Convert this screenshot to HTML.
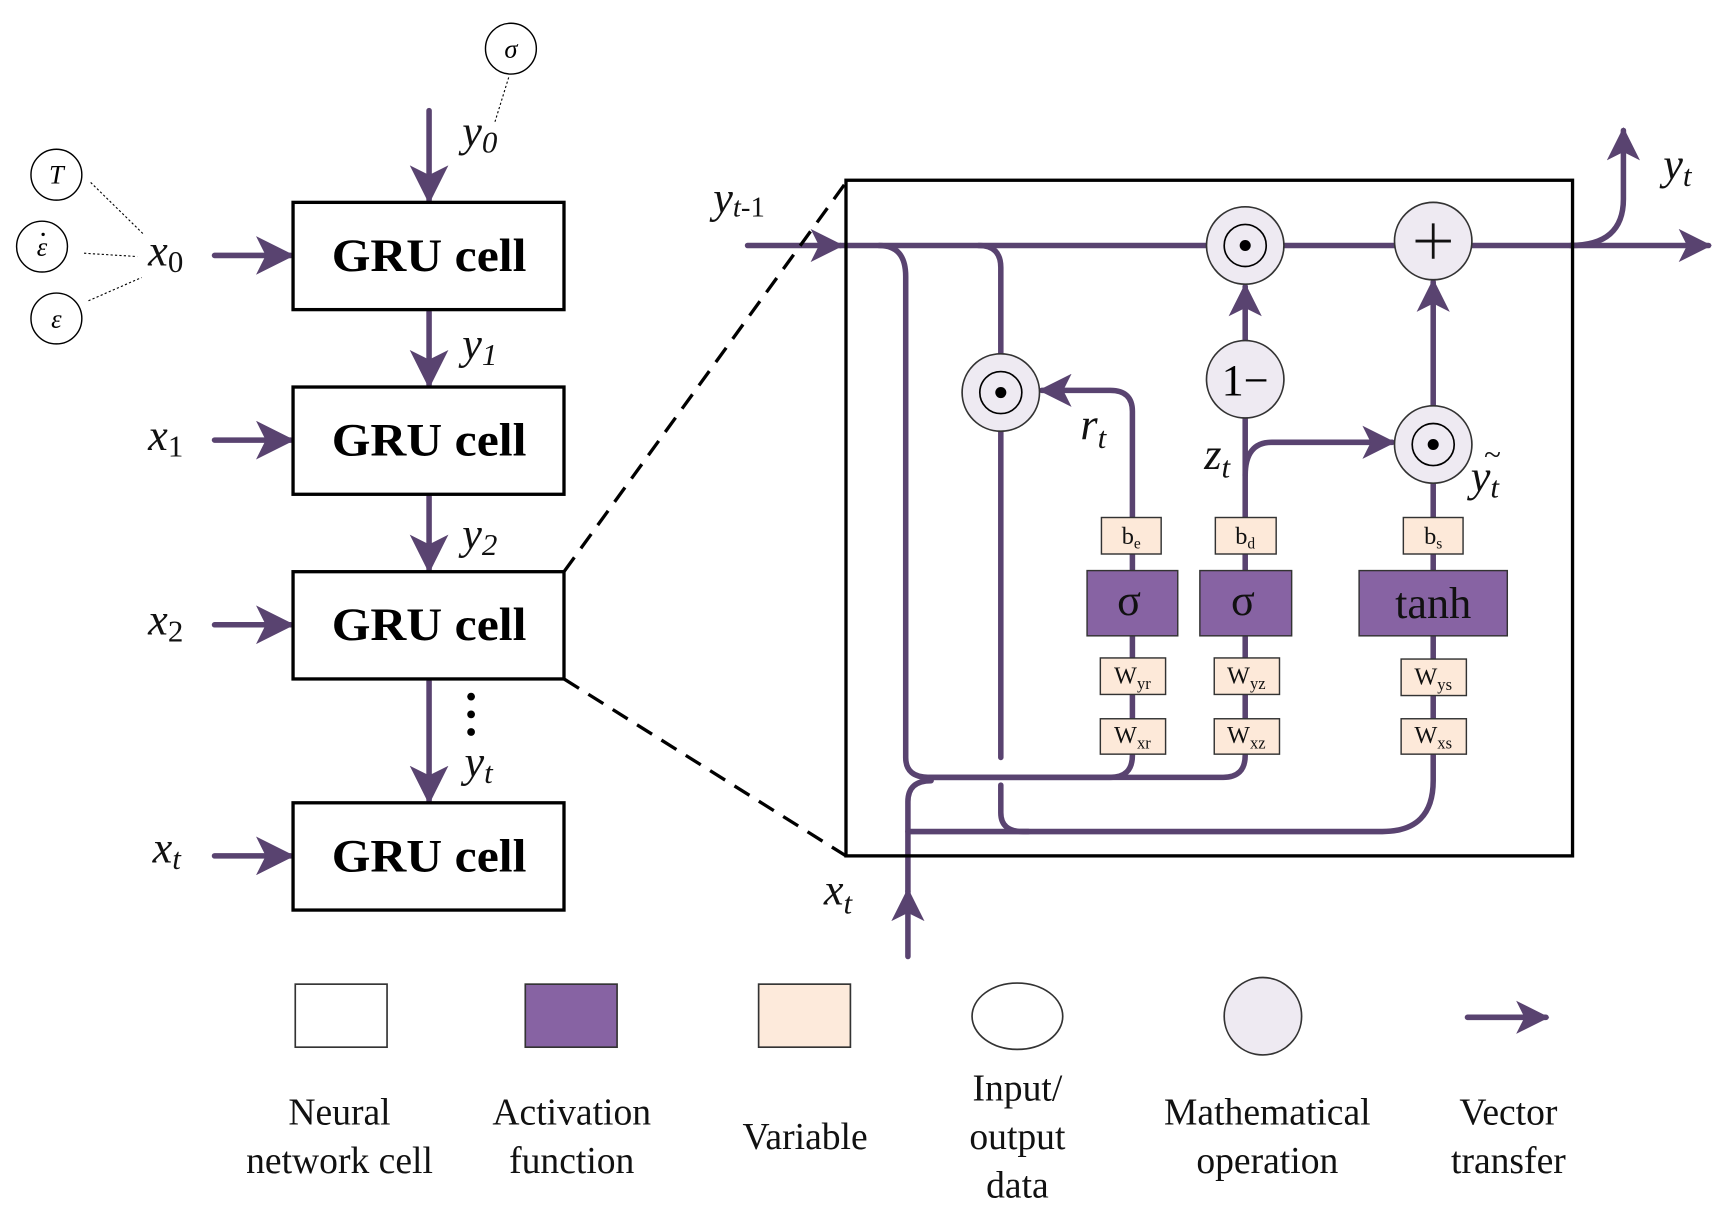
<!DOCTYPE html>
<html><head><meta charset="utf-8"><style>
html,body{margin:0;padding:0;background:#fff}
svg{display:block}
text{font-family:"Liberation Serif",serif}
</style></head><body>
<svg width="1734" height="1223" viewBox="0 0 1568 1106" preserveAspectRatio="none" xmlns="http://www.w3.org/2000/svg">
<defs>
<marker id="ah" viewBox="0 0 10 10" refX="9" refY="5" markerWidth="7" markerHeight="7" orient="auto" markerUnits="strokeWidth">
<path d="M0,0 L10,5 L0,10 L2.5,5 Z" fill="#594370"/>
</marker>
<marker id="as" viewBox="0 0 10 10" refX="9" refY="5" markerWidth="6" markerHeight="6" orient="auto" markerUnits="strokeWidth">
<path d="M0,0 L10,5 L0,10 L2.5,5 Z" fill="#594370"/>
</marker>
</defs>
<g fill="none" stroke="#594370" stroke-width="5" stroke-linecap="round">
<line x1="388" y1="100" x2="388" y2="181" marker-end="url(#ah)"/>
<line x1="388" y1="282" x2="388" y2="348" marker-end="url(#ah)"/>
<line x1="388" y1="449" x2="388" y2="515" marker-end="url(#ah)"/>
<line x1="388" y1="616" x2="388" y2="724" marker-end="url(#ah)"/>
<line x1="194" y1="231" x2="263" y2="231" marker-end="url(#ah)"/>
<line x1="194" y1="398" x2="263" y2="398" marker-end="url(#ah)"/>
<line x1="194" y1="565" x2="263" y2="565" marker-end="url(#ah)"/>
<line x1="194" y1="774" x2="263" y2="774" marker-end="url(#ah)"/>
<line x1="676" y1="222" x2="760" y2="222" marker-end="url(#as)"/>
<line x1="760" y1="222" x2="1545" y2="222" marker-end="url(#as)"/>
<path d="M1420,222 Q1468,222 1468,180 L1468,118" marker-end="url(#as)"/>
<path d="M795,222 Q819,222 819,250 L819,685 Q819,703 840,703 L1004,703 Q1024,703 1024,683"/>
<path d="M840,703 L1106,703 Q1126,703 1126,683"/>
<path d="M885,222 Q905,222 905,242 L905,320"/>
<line x1="905" y1="390" x2="905" y2="685"/>
<path d="M905,710 L905,735 Q905,752 925,752 L1250,752 Q1296,752 1296,706 L1296,683"/>
<line x1="821" y1="865" x2="821" y2="806" marker-end="url(#as)"/>
<path d="M821,806 L821,725 Q821,706 842,706"/>
<line x1="821" y1="752" x2="930" y2="752"/>
<path d="M1024,650 L1024,372 Q1024,353 1004,353 L942,353" marker-end="url(#as)"/>
<line x1="1126" y1="650" x2="1126" y2="378"/>
<line x1="1126" y1="308" x2="1126" y2="259" marker-end="url(#as)"/>
<path d="M1126,430 Q1126,400 1150,400 L1259,400" marker-end="url(#as)"/>
<line x1="1296" y1="650" x2="1296" y2="437"/>
<line x1="1296" y1="367" x2="1296" y2="255" marker-end="url(#as)"/>
<line x1="1327" y1="920" x2="1398" y2="920" marker-end="url(#as)"/>
</g>
<g fill="#fff" stroke="#000" stroke-width="3">
<rect x="265" y="183" width="245" height="97"/>
<rect x="265" y="350" width="245" height="97"/>
<rect x="265" y="517" width="245" height="97"/>
<rect x="265" y="726" width="245" height="97"/>
</g>
<g font-size="42" font-weight="bold" text-anchor="middle" fill="#000">
<text x="388" y="245" textLength="176" lengthAdjust="spacingAndGlyphs">GRU cell</text>
<text x="388" y="412" textLength="176" lengthAdjust="spacingAndGlyphs">GRU cell</text>
<text x="388" y="579" textLength="176" lengthAdjust="spacingAndGlyphs">GRU cell</text>
<text x="388" y="788" textLength="176" lengthAdjust="spacingAndGlyphs">GRU cell</text>
</g>
<circle cx="426" cy="630" r="3.5"/><circle cx="426" cy="646" r="3.5"/><circle cx="426" cy="662" r="3.5"/>
<g stroke="#000" stroke-width="3" stroke-dasharray="16,10" fill="none">
<line x1="510" y1="517" x2="765" y2="165"/>
<line x1="510" y1="614" x2="765" y2="774"/>
</g>
<rect x="765" y="163" width="657" height="611" fill="none" stroke="#000" stroke-width="3"/>
<g fill="#fff" stroke="#000" stroke-width="1.3">
<circle cx="462" cy="44" r="23"/><circle cx="51" cy="158" r="23"/><circle cx="38" cy="223" r="23"/><circle cx="51" cy="288" r="23"/>
</g>
<g stroke="#000" stroke-width="1" stroke-dasharray="2,2">
<line x1="460" y1="70" x2="447" y2="112"/>
<line x1="82" y1="165" x2="130" y2="212"/>
<line x1="76" y1="229" x2="124" y2="232"/>
<line x1="80" y1="272" x2="128" y2="251"/>
</g>
<g font-style="italic" font-size="24" text-anchor="middle">
<text x="462" y="52">σ</text><text x="51" y="166">T</text><text x="38" y="231">ε</text><text x="51" y="296">ε</text>
</g>
<circle cx="39" cy="212" r="1.5"/>
<g fill="#eeeaf2" stroke="#333" stroke-width="1.5">
<circle cx="1126" cy="222" r="35"/><circle cx="1296" cy="218" r="35"/><circle cx="905" cy="355" r="35"/><circle cx="1126" cy="343" r="35"/><circle cx="1296" cy="402" r="35"/>
</g>
<g fill="none" stroke="#000" stroke-width="1.5">
<circle cx="1126" cy="222" r="19"/><circle cx="905" cy="355" r="19"/><circle cx="1296" cy="402" r="19"/>
</g>
<circle cx="1126" cy="222" r="5"/><circle cx="905" cy="355" r="5"/><circle cx="1296" cy="402" r="5"/>
<g stroke="#111" stroke-width="2.5"><line x1="1280" y1="218" x2="1312" y2="218"/><line x1="1296" y1="202" x2="1296" y2="234"/></g>
<text x="1126" y="357" font-size="40" text-anchor="middle">1−</text>
<g fill="#fde9d9" stroke="#333" stroke-width="1.3">
<rect x="996" y="468" width="54" height="33"/><rect x="1099" y="468" width="55" height="33"/><rect x="1269" y="468" width="54" height="33"/>
<rect x="995" y="595" width="59" height="33"/><rect x="1098" y="595" width="59" height="33"/><rect x="1267" y="596" width="59" height="33"/>
<rect x="995" y="650" width="59" height="32"/><rect x="1098" y="650" width="59" height="32"/><rect x="1267" y="650" width="59" height="32"/>
</g>
<g fill="#8763a3" stroke="#333" stroke-width="1.3">
<rect x="983" y="516" width="82" height="59"/><rect x="1085" y="516" width="83" height="59"/><rect x="1229" y="516" width="134" height="59"/>
</g>
<g font-size="40" text-anchor="middle" fill="#111">
<text x="1021" y="556">σ</text><text x="1124" y="556">σ</text><text x="1296" y="559">tanh</text>
</g>
<g font-size="22" text-anchor="middle" fill="#111">
<text x="1023" y="492">b<tspan font-size="14" dy="4">e</tspan></text>
<text x="1126" y="492">b<tspan font-size="14" dy="4">d</tspan></text>
<text x="1296" y="492">b<tspan font-size="14" dy="4">s</tspan></text>
<text x="1024" y="618">W<tspan font-size="15" dy="5">yr</tspan></text>
<text x="1127" y="618">W<tspan font-size="15" dy="5">yz</tspan></text>
<text x="1296" y="619">W<tspan font-size="15" dy="5">ys</tspan></text>
<text x="1024" y="672">W<tspan font-size="15" dy="5">xr</tspan></text>
<text x="1127" y="672">W<tspan font-size="15" dy="5">xz</tspan></text>
<text x="1296" y="672">W<tspan font-size="15" dy="5">xs</tspan></text>
</g>
<g font-style="italic" font-size="40" fill="#111">
<text x="418" y="132">y<tspan font-size="28" dy="6">0</tspan></text>
<text x="418" y="324">y<tspan font-size="28" dy="6">1</tspan></text>
<text x="418" y="496">y<tspan font-size="28" dy="6">2</tspan></text>
<text x="420" y="702">y<tspan font-size="28" dy="6">t</tspan></text>
<text x="134" y="240">x<tspan font-size="28" dy="6" font-style="normal">0</tspan></text>
<text x="134" y="407">x<tspan font-size="28" dy="6" font-style="normal">1</tspan></text>
<text x="134" y="574">x<tspan font-size="28" dy="6" font-style="normal">2</tspan></text>
<text x="138" y="780">x<tspan font-size="28" dy="6">t</tspan></text>
<text x="645" y="192">y<tspan font-size="26" dy="4">t</tspan><tspan font-size="26" font-style="normal">-1</tspan></text>
<text x="1504" y="162">y<tspan font-size="28" dy="6">t</tspan></text>
<text x="977" y="397">r<tspan font-size="28" dy="8">t</tspan></text>
<text x="1089" y="424">z<tspan font-size="28" dy="8">t</tspan></text>
<text x="1330" y="444">y<tspan font-size="28" dy="6">t</tspan></text>
<text x="745" y="818">x<tspan font-size="28" dy="8">t</tspan></text>
</g>
<text x="1342" y="420" font-size="28" fill="#111">~</text>
<rect x="267" y="890" width="83" height="57" fill="#fff" stroke="#333" stroke-width="1.5"/>
<rect x="475" y="890" width="83" height="57" fill="#8763a3" stroke="#333" stroke-width="1.5"/>
<rect x="686" y="890" width="83" height="57" fill="#fdeadb" stroke="#333" stroke-width="1.5"/>
<ellipse cx="920" cy="919" rx="41" ry="30" fill="#fff" stroke="#333" stroke-width="1.5"/>
<ellipse cx="1142" cy="919" rx="35" ry="35" fill="#eeeaf2" stroke="#333" stroke-width="1.5"/>
<g font-size="34" text-anchor="middle" fill="#111">
<text x="307" y="1017">Neural</text><text x="307" y="1061">network cell</text>
<text x="517" y="1017">Activation</text><text x="517" y="1061">function</text>
<text x="728" y="1039">Variable</text>
<text x="920" y="995">Input/</text><text x="920" y="1039">output</text><text x="920" y="1083">data</text>
<text x="1146" y="1017">Mathematical</text><text x="1146" y="1061">operation</text>
<text x="1364" y="1017">Vector</text><text x="1364" y="1061">transfer</text>
</g>
</svg>
</body></html>
